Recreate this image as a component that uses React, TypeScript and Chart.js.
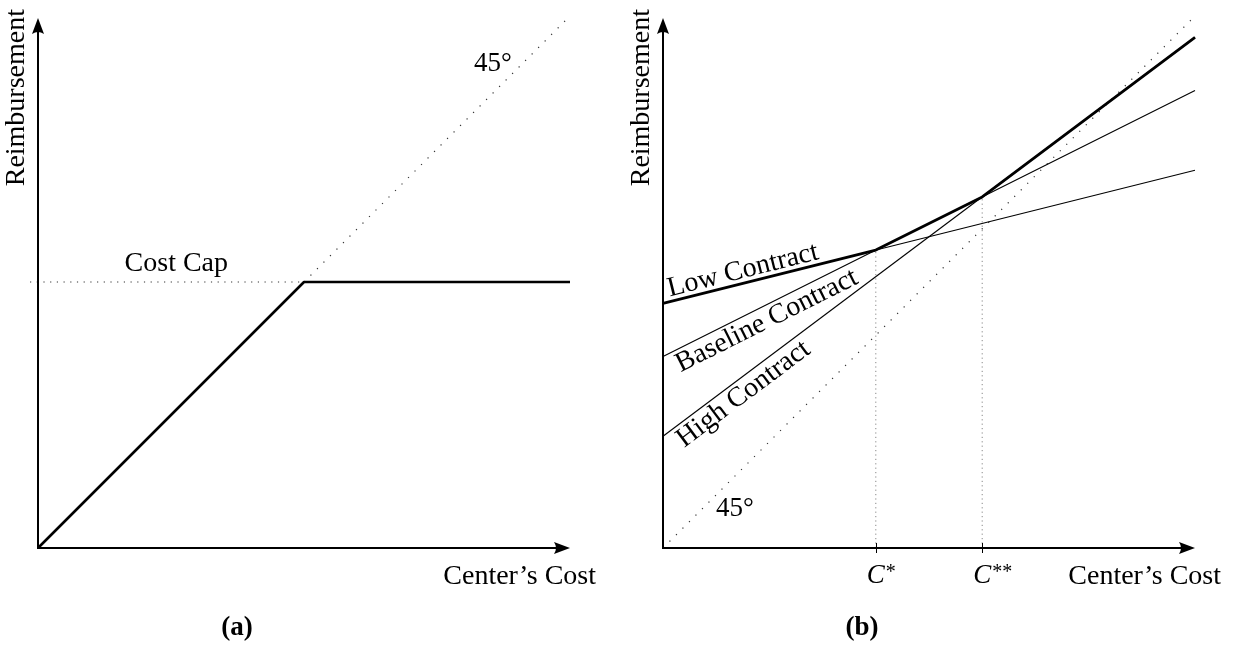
import React, { useEffect, useRef } from "react";
import { Chart, registerables } from "chart.js";

Chart.register(...registerables);

// ---------- Data ----------
// Shared axis ranges (Center's Cost on x, Reimbursement on y)
const costRange = [0, 10];
const reimbRange = [0, 10];

// Panel (a): cost-capped reimbursement
const capCostX = [0, 5, 10];
const capReimbY = [0, 5, 5];
const capLevel = 5;
const capDottedX = [-0.15, 5];
const diagA_X = [5, 10];
const diagA_Y = [5, 10];

// Panel (b): contracts
const contractX = [0, 10];
const lowContractY = [4.6, 7.1];
const baselineContractY = [3.6, 8.6];
const highContractY = [2.1, 9.6];
const envelopeX = [0, 4, 6, 10];
const envelopeY = [4.6, 5.6, 6.6, 9.6];
const diagB_X = [0, 10];
const diagB_Y = [0, 10];
const cStar = 4;
const cStarStar = 6;
const cStarY = 5.6;
const cStarStarY = 6.6;

// Text
const xTitle = "Center\u2019s Cost";
const yTitle = "Reimbursement";
const capLabel = "Cost Cap";
const degLabel = "45\u00B0";
const lowLabel = "Low Contract";
const baseLabel = "Baseline Contract";
const highLabel = "High Contract";

const FONT = '"Liberation Serif", "Times New Roman", serif';

const pts = (xs: number[], ys: number[]) => xs.map((x, i) => ({ x, y: ys[i] }));

function drawArrowAxes(chart: any) {
  const { ctx } = chart;
  const xs = chart.scales.x;
  const ys = chart.scales.y;
  const ox = xs.getPixelForValue(costRange[0]);
  const oy = ys.getPixelForValue(reimbRange[0]);
  const tx = xs.getPixelForValue(costRange[1]);
  const ty = ys.getPixelForValue(reimbRange[1]) + 2;
  ctx.save();
  ctx.strokeStyle = "#000";
  ctx.fillStyle = "#000";
  ctx.lineWidth = 2;
  ctx.lineCap = "butt";
  // x axis
  ctx.beginPath();
  ctx.moveTo(ox - 1, oy);
  ctx.lineTo(tx - 10, oy);
  ctx.stroke();
  ctx.beginPath();
  ctx.moveTo(tx, oy);
  ctx.lineTo(tx - 16, oy - 6);
  ctx.quadraticCurveTo(tx - 12, oy, tx - 16, oy + 6);
  ctx.closePath();
  ctx.fill();
  // y axis
  ctx.beginPath();
  ctx.moveTo(ox, oy + 1);
  ctx.lineTo(ox, ty + 10);
  ctx.stroke();
  ctx.beginPath();
  ctx.moveTo(ox, ty);
  ctx.lineTo(ox - 6, ty + 16);
  ctx.quadraticCurveTo(ox, ty + 12, ox + 6, ty + 16);
  ctx.closePath();
  ctx.fill();
  // titles
  ctx.font = `28px ${FONT}`;
  ctx.textAlign = "right";
  ctx.textBaseline = "alphabetic";
  ctx.fillText(xTitle, tx + 26, oy + 36);
  ctx.save();
  ctx.translate(ox - 21, 9);
  ctx.rotate(-Math.PI / 2);
  ctx.textAlign = "right";
  ctx.textBaseline = "middle";
  ctx.fillText(yTitle, 0, 0);
  ctx.restore();
  ctx.restore();
}

function drawCaption(chart: any, text: string) {
  const { ctx } = chart;
  const ox = chart.scales.x.getPixelForValue(0);
  ctx.save();
  ctx.font = `bold 27px ${FONT}`;
  ctx.textAlign = "center";
  ctx.textBaseline = "alphabetic";
  ctx.fillStyle = "#000";
  ctx.fillText(text, ox + 199, 635);
  ctx.restore();
}

function drawAlong(chart: any, text: string, ysLine: number[], startX: number, side: "above" | "below") {
  const { ctx } = chart;
  const xs = chart.scales.x;
  const ys = chart.scales.y;
  const p0x = xs.getPixelForValue(contractX[0]);
  const p0y = ys.getPixelForValue(ysLine[0]);
  const p1x = xs.getPixelForValue(contractX[1]);
  const p1y = ys.getPixelForValue(ysLine[1]);
  const ang = Math.atan2(p1y - p0y, p1x - p0x);
  const t = (startX - contractX[0]) / (contractX[1] - contractX[0]);
  const px = p0x + (p1x - p0x) * t;
  const py = p0y + (p1y - p0y) * t;
  ctx.save();
  ctx.translate(px, py);
  ctx.rotate(ang);
  ctx.font = `28px ${FONT}`;
  ctx.fillStyle = "#000";
  ctx.textAlign = "left";
  ctx.textBaseline = "alphabetic";
  if (side === "above") ctx.fillText(text, 0, -5);
  else ctx.fillText(text, 0, 22);
  ctx.restore();
}

const panelAPlugin = {
  id: "panelA",
  afterDatasetsDraw(chart: any) {
    const { ctx } = chart;
    const xs = chart.scales.x;
    const ys = chart.scales.y;
    drawArrowAxes(chart);
    ctx.save();
    ctx.fillStyle = "#000";
    ctx.font = `28px ${FONT}`;
    ctx.textAlign = "center";
    ctx.textBaseline = "alphabetic";
    ctx.fillText(capLabel, xs.getPixelForValue(2.6), ys.getPixelForValue(capLevel) - 11);
    ctx.font = `27px ${FONT}`;
    ctx.textBaseline = "middle";
    ctx.fillText(degLabel, xs.getPixelForValue(8.55), ys.getPixelForValue(9.1));
    ctx.restore();
    drawCaption(chart, "(a)");
  },
};

const panelBPlugin = {
  id: "panelB",
  afterDatasetsDraw(chart: any) {
    const { ctx } = chart;
    const xs = chart.scales.x;
    const ys = chart.scales.y;
    drawArrowAxes(chart);
    const oy = ys.getPixelForValue(0);
    // ticks and C labels
    ctx.save();
    ctx.strokeStyle = "#000";
    ctx.lineWidth = 1;
    [cStar, cStarStar].forEach((c) => {
      const x = Math.round(xs.getPixelForValue(c)) + 0.5;
      ctx.beginPath();
      ctx.moveTo(x, oy - 5);
      ctx.lineTo(x, oy + 5);
      ctx.stroke();
    });
    ctx.fillStyle = "#000";
    const drawC = (c: number, stars: string) => {
      const x = xs.getPixelForValue(c);
      ctx.font = `italic 27px ${FONT}`;
      ctx.textAlign = "center";
      ctx.textBaseline = "alphabetic";
      ctx.fillText("C", x, oy + 35);
      const w = ctx.measureText("C").width;
      ctx.font = `20px ${FONT}`;
      ctx.textAlign = "left";
      ctx.fillText(stars, x + w / 2 + 1, oy + 30);
    };
    drawC(cStar, "*");
    drawC(cStarStar, "**");
    ctx.font = `27px ${FONT}`;
    ctx.textAlign = "center";
    ctx.textBaseline = "middle";
    ctx.fillText(degLabel, xs.getPixelForValue(1.35), ys.getPixelForValue(0.73));
    ctx.restore();
    drawAlong(chart, lowLabel, lowContractY, 0.15, "above");
    drawAlong(chart, baseLabel, baselineContractY, 0.15, "below");
    drawAlong(chart, highLabel, highContractY, 0.15, "below");
    drawCaption(chart, "(b)");
  },
};

const baseScales = {
  x: { type: "linear" as const, min: costRange[0], max: costRange[1], display: false },
  y: { type: "linear" as const, min: reimbRange[0], max: reimbRange[1], display: false },
};

function makeOptions(padding: any) {
  return {
    animation: false as const,
    responsive: false,
    devicePixelRatio: 1,
    layout: { padding },
    scales: baseScales,
    plugins: { legend: { display: false }, tooltip: { enabled: false }, title: { display: false } },
    elements: { point: { radius: 0 }, line: { tension: 0 } },
    events: [],
  };
}

const dotted = (data: any, dash: number[], color = "#333", width = 1.2) => ({
  data,
  showLine: true,
  borderColor: color,
  borderWidth: width,
  borderDash: dash,
  pointRadius: 0,
  fill: false,
  clip: false,
});

const solid = (data: any, width: number) => ({
  data,
  showLine: true,
  borderColor: "#000",
  borderWidth: width,
  pointRadius: 0,
  fill: false,
  clip: false,
  borderJoinStyle: "round",
  borderCapStyle: "butt",
});

export default function App() {
  const refA = useRef<HTMLCanvasElement>(null);
  const refB = useRef<HTMLCanvasElement>(null);

  useEffect(() => {
    const chartA = new Chart(refA.current!, {
      type: "scatter",
      data: {
        datasets: [
          solid(pts(capCostX, capReimbY), 2.6) as any,
          dotted(pts(capDottedX, [capLevel, capLevel]), [1.2, 5.5]) as any,
          dotted(pts(diagA_X, diagA_Y), [1.2, 8]) as any,
        ],
      },
      options: makeOptions({ left: 38, right: 48, top: 16, bottom: 100 }) as any,
      plugins: [panelAPlugin],
    });
    const chartB = new Chart(refB.current!, {
      type: "scatter",
      data: {
        datasets: [
          solid(pts(envelopeX, envelopeY), 2.8) as any,
          solid(pts(contractX, lowContractY), 1.1) as any,
          solid(pts(contractX, baselineContractY), 1.1) as any,
          solid(pts(contractX, highContractY), 1.1) as any,
          dotted(pts([cStar, cStar], [0, cStarY]), [1.2, 3.2], "#888", 1) as any,
          dotted(pts([cStarStar, cStarStar], [0, cStarStarY]), [1.2, 3.2], "#888", 1) as any,
          dotted(pts(diagB_X, diagB_Y), [1.2, 8]) as any,
        ],
      },
      options: makeOptions({ left: 45, right: 41, top: 16, bottom: 100 }) as any,
      plugins: [panelBPlugin],
    });
    return () => {
      chartA.destroy();
      chartB.destroy();
    };
  }, []);

  return (
    <div style={{ position: "absolute", left: 0, top: 0, width: 1236, height: 648, background: "#fff" }}>
      <canvas ref={refA} width={618} height={648} style={{ position: "absolute", left: 0, top: 0, width: 618, height: 648 }} />
      <canvas ref={refB} width={618} height={648} style={{ position: "absolute", left: 618, top: 0, width: 618, height: 648 }} />
    </div>
  );
}
